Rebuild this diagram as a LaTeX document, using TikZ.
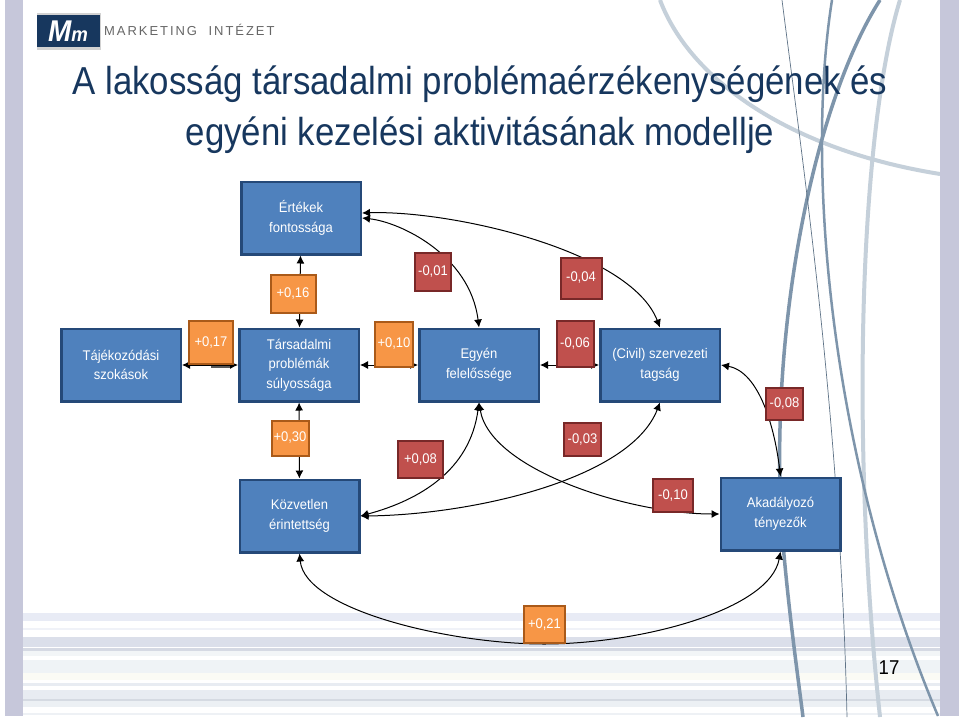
\documentclass[tikz,border=0pt]{standalone}
\usepackage{fontspec}
\setmainfont[FakeStretch=0.93]{Liberation Sans}
\newfontfamily\titlefont[FakeStretch=0.893]{Liberation Sans}
\newfontfamily\logofont[LetterSpace=15]{Liberation Sans}
\usetikzlibrary{arrows.meta}
\definecolor{boxblue}{RGB}{79, 129, 189}
\definecolor{boxedge}{RGB}{37, 73, 120}
\definecolor{posfill}{RGB}{247, 150, 70}
\definecolor{posedge}{RGB}{170, 90, 25}
\definecolor{negfill}{RGB}{192, 80, 77}
\definecolor{negedge}{RGB}{120, 40, 40}
\definecolor{titlenavy}{RGB}{23, 55, 94}
\definecolor{bandgray}{RGB}{198, 199, 218}
\definecolor{swoosh}{RGB}{126, 149, 171}
\definecolor{swooshthin}{RGB}{95, 115, 135}
\definecolor{swooshpale}{RGB}{197, 208, 218}
\tikzset{
    factor/.style={draw=boxedge, fill=boxblue, line width=2.5pt, text=white, align=center,
        font=\fontsize{14}{19.5}\selectfont, minimum width=119.5pt, minimum height=72.5pt, inner sep=0pt},
    posbox/.style={draw=posedge, fill=posfill, line width=2pt, text=white,
        font=\fontsize{14}{16}\selectfont, inner sep=0pt},
    negbox/.style={draw=negedge, fill=negfill, line width=2pt, text=white,
        font=\fontsize{14}{16}\selectfont, inner sep=0pt},
    link/.style={{Latex[length=8pt,width=8pt]}-{Latex[length=8pt,width=8pt]}, black, line width=1pt}
}
\begin{document}
\begin{tikzpicture}[x=1pt, y=-1pt]
    \useasboundingbox (0,0) rectangle (960,717);
    % Background
    \fill[white] (0,0) rectangle (960,717);
    \foreach \ya/\yb/\col in {613/621/E8EBF5, 628/630/F0F2F8, 637/647/DBDFEA, 648/651/D5D9E3,
            651/656/F2F5F7, 660/673/EFF3F6, 673/680/FBFBF5, 683/686/E8ECF2,
            690/699/E8ECF2, 699/701/D5DAE2, 701/707/ECF0F4, 713/715/EEF1F5} {
        \definecolor{stripecol}{HTML}{\col}
        \fill[stripecol] (23,\ya) rectangle (940,\yb);
    }
    \draw[swooshpale, line width=4pt] (660,0) .. controls (690,80) and (790,150) .. (940,174);
    \draw[swooshpale, line width=4pt] (900,0) .. controls (860,130) and (850,440) .. (880,717);
    \draw[swoosh, line width=3.5pt] (880,0) .. controls (810,110) and (765,350) .. (784,555)
        .. controls (790,620) and (797,670) .. (803,717);
    \draw[swoosh, line width=2.5pt] (832,0) .. controls (805,170) and (830,460) .. (938,716);
    \draw[swooshthin, line width=0.7pt] (782,0) .. controls (805,180) and (840,420) .. (847,717);
    \fill[bandgray] (5,0) rectangle (23,716);
    \fill[bandgray] (940,0) rectangle (959,716);
    % Logo
    \fill[gray!35] (37,13) rectangle (101,50);
    \fill[titlenavy] (37,15) rectangle (100,47);
    \node[white, font=\itshape\bfseries] (logomark) at (68,31)
        {\fontsize{30}{30}\selectfont M\fontsize{20}{20}\selectfont m};
    \node[gray!80!black, anchor=west, inner sep=0pt, font=\logofont\fontsize{13}{13}\selectfont] (logotext) at (104,30)
        {MARKETING\hspace{6pt} INTÉZET};
    % Title
    \node[titlenavy, align=center, font=\titlefont\fontsize{39}{51}\selectfont] (title) at (480,109.5)
        {A lakosság társadalmi problémaérzékenységének és\\
         egyéni kezelési aktivitásának modellje};
    % Factors
    \node[factor] (ertekek) at (301,218) {Értékek\\fontossága};
    \node[factor] (tajekozodasi) at (121,365) {Tájékozódási\\szokások};
    \node[factor] (tarsadalmi) at (299,365) {Társadalmi\\problémák\\súlyossága};
    \node[factor] (egyen) at (479,365) {Egyén\\felelőssége};
    \node[factor] (civil) at (660,365) {(Civil) szervezeti\\tagság};
    \node[factor] (kozvetlen) at (299.5,516) {Közvetlen\\érintettség};
    \node[factor] (akadalyozo) at (780.5,514) {Akadályozó\\tényezők};
    % Connectors
    \draw[link] (tajekozodasi) -- (tarsadalmi);
    \draw[link] (tarsadalmi) -- (egyen);
    \draw[link] (egyen) -- (civil);
    \draw[link] (ertekek) -- (tarsadalmi);
    \draw[link] (tarsadalmi) -- (kozvetlen);
    \draw[link] (ertekek.east) .. controls (400,222) and (470,255) .. (egyen.north);
    \draw[link] ([yshift=5pt]ertekek.east) .. controls (450,210) and (630,250) .. (civil.north);
    \draw[link] (kozvetlen.east) .. controls (420,500) and (470,470) .. (egyen.south);
    \draw[link] (kozvetlen.east) .. controls (470,515) and (630,480) .. (civil.south);
    \draw[link] (egyen.south) .. controls (490,470) and (630,514) .. (akadalyozo.west);
    \draw[link] (civil.east) .. controls (760,372) and (775,430) .. (akadalyozo.north);
    \draw[link] (kozvetlen.south) .. controls (305,610) and (450,644) .. (544,644)
        .. controls (640,644) and (770,610) .. (akadalyozo.south);
    % Coefficients
    \node[posbox, minimum width=45pt, minimum height=38pt] (coefA) at (293,294) {+0,16};
    \node[negbox, minimum width=36pt, minimum height=38pt] (coefB) at (433,272) {-0,01};
    \node[negbox, minimum width=41pt, minimum height=41pt] (coefC) at (581,278) {-0,04};
    \node[posbox, minimum width=44pt, minimum height=43pt] (coefD) at (211,342.5) {+0,17};
    \node[posbox, minimum width=38pt, minimum height=45pt] (coefE) at (394,344) {+0,10};
    \node[negbox, minimum width=37pt, minimum height=46pt] (coefF) at (575,344) {-0,06};
    \node[posbox, minimum width=37pt, minimum height=35pt] (coefG) at (290,438) {+0,30};
    \node[negbox, minimum width=45pt, minimum height=37pt] (coefH) at (420.5,459.5) {+0,08};
    \node[negbox, minimum width=37pt, minimum height=33pt] (coefI) at (582.5,439.5) {-0,03};
    \node[negbox, minimum width=40pt, minimum height=33pt] (coefJ) at (673,495.5) {-0,10};
    \node[negbox, minimum width=37pt, minimum height=32pt] (coefK) at (784.5,404) {-0,08};
    \node[posbox, minimum width=41pt, minimum height=37pt] (coefL) at (544.5,624.5) {+0,21};
    \draw[gray!70!black, line width=1.5pt] ([yshift=-2pt]coefD.south) -- ++(19,0);
    % Page number
    \node[black, font=\fontsize{20}{20}\selectfont] (pagenum) at (889,668) {17};
\end{tikzpicture}
\end{document}
